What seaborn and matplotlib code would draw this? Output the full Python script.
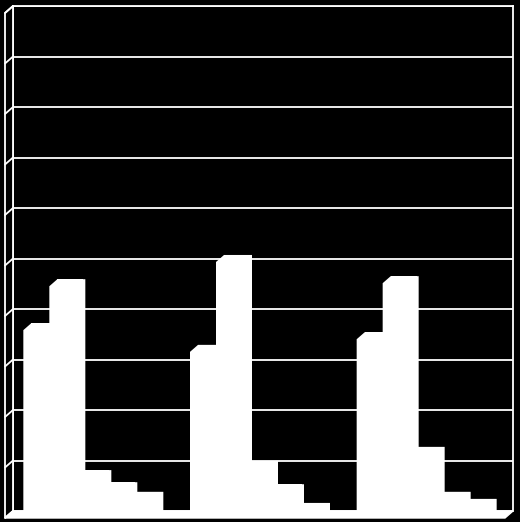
import pandas as pd
import matplotlib
matplotlib.use("Agg")
import matplotlib.pyplot as plt
import seaborn as sns
from matplotlib.patches import Polygon

groups = ["Group 1", "Group 2", "Group 3"]
series = ["S1", "S2", "S3", "S4", "S5"]
s1 = [37.2, 32.9, 35.4]
s2 = [45.9, 50.7, 46.5]
s3 = [8.1, 9.9, 12.7]
s4 = [5.7, 5.3, 3.8]
s5 = [3.8, 1.6, 2.4]

rows = []
for name, vals in zip(series, [s1, s2, s3, s4, s5]):
    for g, v in zip(groups, vals):
        rows.append({"group": g, "series": name, "value": v})
df = pd.DataFrame(rows)

sns.set_theme(style="dark", rc={"axes.facecolor": "black", "figure.facecolor": "black"})

fig = plt.figure(figsize=(5.2, 5.22), dpi=100)
# back wall of the 3d box
ax = fig.add_axes([13 / 520, 11 / 522, 500 / 520, 505 / 522])

sns.barplot(data=df, x="group", y="value", hue="series", order=groups, hue_order=series,
            palette=["white"] * 5, saturation=1, width=0.78, errorbar=None,
            linewidth=0, legend=False, ax=ax)

ax.set_xlim(-0.5, 2.5)
ax.set_ylim(0, 100)
ax.set_yticks(range(0, 101, 10))
ax.set_axisbelow(True)
ax.grid(axis="y", color="white", linewidth=1.3)
ax.grid(axis="x", visible=False)
ax.tick_params(length=0, labelleft=False, labelbottom=False)
ax.set_xlabel("")
ax.set_ylabel("")
for side in ["left", "right", "top"]:
    ax.spines[side].set_visible(True)
    ax.spines[side].set_color("white")
    ax.spines[side].set_linewidth(1.3)
ax.spines["bottom"].set_visible(False)

# depth offset of the fake 3d, pixels -> data units
dx = 8 * 3 / 500
dy = 7 * 100 / 505
ext = 2 * 3 / 500

# left side wall
wall = Polygon([(-0.5, 0), (-0.5, 100), (-0.5 - dx, 100 - dy), (-0.5 - dx, -dy)],
               closed=True, facecolor="black", edgecolor="white", linewidth=1.3,
               clip_on=False, zorder=3)
ax.add_patch(wall)
for y in range(0, 101, 10):
    ax.plot([-0.5, -0.5 - dx], [y, y - dy], color="white", linewidth=1.3,
            clip_on=False, zorder=3)

# floor
floor = Polygon([(-0.5, 0), (2.5, 0), (2.5 - dx, -dy), (-0.5 - dx, -dy)],
                closed=True, facecolor="white", edgecolor="white", linewidth=1,
                clip_on=False, zorder=3)
ax.add_patch(floor)

# extrude each bar towards the viewer
for p in list(ax.patches):
    if p in (wall, floor):
        continue
    x0, w, h = p.get_x(), p.get_width(), p.get_height()
    xe = x0 + w + ext
    pts = [(x0 - dx, -dy), (xe - dx, -dy), (xe, 0), (xe, h), (x0, h), (x0 - dx, h - dy)]
    ax.add_patch(Polygon(pts, closed=True, facecolor="white", edgecolor="none",
                         clip_on=False, zorder=4))

fig.savefig("out.png", dpi=100, facecolor="black")
